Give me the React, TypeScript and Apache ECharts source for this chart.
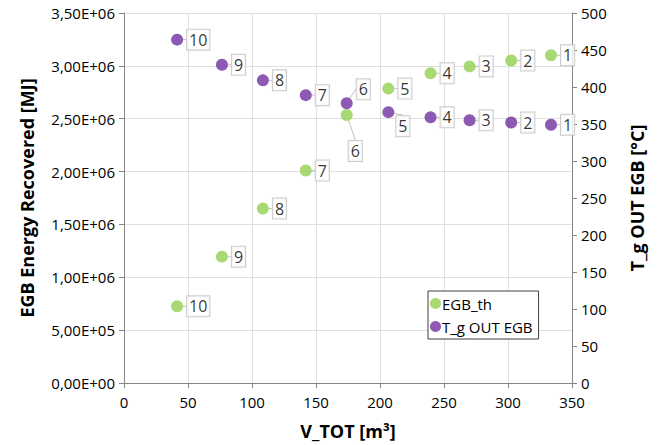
import React, { useEffect, useRef } from "react";
import * as echarts from "echarts";

const vTot = [333.6, 302.5, 270, 239.5, 206.5, 174, 142, 108.5, 76.5, 41.5];
const egbTh = [3.1e6, 3.05e6, 2.995e6, 2.93e6, 2.785e6, 2.535e6, 2.01e6, 1.65e6, 1.195e6, 7.25e5];
const tgOut = [349, 352, 355, 359, 366, 378, 389, 409, 430, 464];
const pointLabels = ["1", "2", "3", "4", "5", "6", "7", "8", "9", "10"];
const xTicks = [0, 350, 50];
const leftTicks = [0, 3.5e6, 5e5];
const rightTicks = [0, 500, 50];

const FONT = "'Open Sans', 'Noto Sans', sans-serif";

function sci(v: number): string {
  const s = v.toExponential(2);
  const [m, e] = s.split("e");
  const sign = e[0] === "-" ? "-" : "+";
  const digits = e.replace(/[+-]/, "").padStart(2, "0");
  return m.replace(".", ",") + "E" + sign + digits;
}

export default function App() {
  const ref = useRef<HTMLDivElement>(null);
  useEffect(() => {
    if (!ref.current) return;
    const chart = echarts.init(ref.current, undefined, { renderer: "svg" });
    const labelStyle = {
      show: true,
      position: "right" as const,
      distance: 4,
      formatter: (p: any) => pointLabels[p.dataIndex],
      color: "#000",
      fontSize: 16,
      fontFamily: FONT,
      backgroundColor: "#fff",
      borderColor: "#bfbfbf",
      borderWidth: 1,
      padding: [3, 2, 1, 2],
    };
    const labelLine = { show: true, lineStyle: { color: "#bfbfbf", width: 1 } };
    const axisName = { fontSize: 18, fontWeight: "bold", color: "#000", fontFamily: FONT };
    chart.setOption({
      animation: false,
      backgroundColor: "#fff",
      textStyle: { fontFamily: FONT },
      grid: { left: 124, right: 85, top: 13, bottom: 60 },
      legend: {
        orient: "vertical",
        left: 428,
        top: 291,
        width: 117,
        itemWidth: 11,
        itemHeight: 11,
        itemGap: 8,
        padding: [5, 6, 5, 2],
        borderColor: "#404040",
        borderWidth: 1,
        backgroundColor: "#fff",
        textStyle: { fontSize: 15, color: "#000", fontFamily: FONT, padding: [0, 0, 0, -4] },
        data: [
          { name: "EGB_th", icon: "circle" },
          { name: "T_g OUT EGB", icon: "circle" },
        ],
      },
      xAxis: {
        type: "value",
        min: xTicks[0],
        max: xTicks[1],
        interval: xTicks[2],
        name: "V_TOT [m³]",
        nameLocation: "middle",
        nameGap: 39,
        nameTextStyle: axisName,
        axisLine: { show: true, lineStyle: { color: "#868686" } },
        axisTick: { show: true, length: 5, lineStyle: { color: "#868686" } },
        axisLabel: { fontSize: 15, color: "#000", margin: 11, fontFamily: FONT },
        splitLine: { show: true, lineStyle: { color: "#e0e0e0" } },
      },
      yAxis: [
        {
          type: "value",
          min: leftTicks[0],
          max: leftTicks[1],
          interval: leftTicks[2],
          name: "EGB Energy Recovered [MJ]",
          nameLocation: "middle",
          nameGap: 88,
          nameRotate: 90,
          nameTextStyle: axisName,
          axisLine: { show: true, lineStyle: { color: "#868686" } },
          axisTick: { show: true, length: 5, lineStyle: { color: "#868686" } },
          axisLabel: { fontSize: 15, color: "#000", margin: 9, formatter: sci, fontFamily: FONT },
          splitLine: { show: true, lineStyle: { color: "#e0e0e0" } },
        },
        {
          type: "value",
          min: rightTicks[0],
          max: rightTicks[1],
          interval: rightTicks[2],
          position: "right",
          name: "T_g OUT EGB [°C]",
          nameLocation: "middle",
          nameGap: 56,
          nameRotate: 90,
          nameTextStyle: axisName,
          axisLine: { show: true, lineStyle: { color: "#868686" } },
          axisTick: { show: true, length: 5, lineStyle: { color: "#868686" } },
          axisLabel: { fontSize: 15, color: "#000", margin: 9, fontFamily: FONT },
          splitLine: { show: false },
        },
      ],
      series: [
        {
          name: "EGB_th",
          type: "scatter",
          yAxisIndex: 0,
          symbol: "circle",
          symbolSize: 12,
          itemStyle: { color: "#92d050" },
          data: vTot.map((x, i) => [x, egbTh[i]]),
          label: labelStyle,
          labelLine,
          labelLayout: (p: any) => (p.dataIndex === 5 ? { dx: -8, dy: 36 } : {}),
        },
        {
          name: "T_g OUT EGB",
          type: "scatter",
          yAxisIndex: 1,
          symbol: "circle",
          symbolSize: 12,
          itemStyle: { color: "#7030a0" },
          data: vTot.map((x, i) => [x, tgOut[i]]),
          label: labelStyle,
          labelLine,
          labelLayout: (p: any) =>
            p.dataIndex === 5 ? { dx: 0, dy: -14 } : p.dataIndex === 4 ? { dx: -2, dy: 14 } : {},
        },
      ],
    });
    return () => chart.dispose();
  }, []);
  return <div ref={ref} style={{ width: 657, height: 445, position: "absolute", left: 0, top: 0 }} />;
}
